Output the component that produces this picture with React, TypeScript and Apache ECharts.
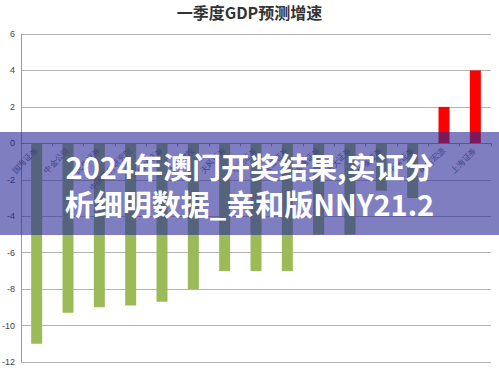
import React, { useEffect, useRef } from "react";
import * as echarts from "echarts";

const title = "一季度GDP预测增速";
const categories = [
  "国海证券", "中金公司", "民生证券", "中国银行研究院", "国信证券",
  "中信建投", "天风证券", "华创证券", "兴业证券", "海通证券",
  "光大证券", "华泰证券", "中泰证券", "申万宏源", "上海证券",
];
const growth = [-11, -9.3, -9, -8.9, -8.7, -8, -7, -7, -7, -5, -5, -2.6, -3, 2, 4];
const yTicks = { min: -12, max: 6, interval: 2 };
const bannerLines = ["2024年澳门开奖结果,实证分", "析细明数据_亲和版NNY21.2"];

export default function App() {
  const ref = useRef<HTMLDivElement>(null);
  useEffect(() => {
    if (!ref.current) return;
    const chart = echarts.init(ref.current, null, { renderer: "svg" });
    const gridTop = 34;
    const gridBottom = 6;
    const gridH = 368 - gridTop - gridBottom;
    const zeroFromBottom = (gridH * (0 - yTicks.min)) / (yTicks.max - yTicks.min);
    chart.setOption({
      animation: false,
      backgroundColor: "#ffffff",
      title: {
        text: title,
        left: "center",
        top: 4,
        padding: 0,
        textStyle: { fontSize: 16, fontWeight: "bold", color: "#333", fontFamily: "Noto Sans CJK SC" },
      },
      grid: {
        left: 21,
        right: 8,
        top: gridTop,
        bottom: gridBottom,
        containLabel: false,
        outerBoundsMode: "none",
      },
      xAxis: {
        type: "category",
        data: categories,
        position: "bottom",
        offset: -zeroFromBottom,
        axisLine: { onZero: false, lineStyle: { color: "#9a9a9a", width: 1 } },
        axisTick: { show: true, length: 3, lineStyle: { color: "#9a9a9a" } },
        axisLabel: {
          rotate: 45,
          fontSize: 8,
          color: "#666",
          fontFamily: "serif",
          margin: 6,
          interval: 0,
        },
        z: 3,
      },
      yAxis: {
        type: "value",
        min: yTicks.min,
        max: yTicks.max,
        interval: yTicks.interval,
        axisLine: { show: true, lineStyle: { color: "#9a9a9a" } },
        axisTick: { show: false },
        axisLabel: { fontSize: 9, color: "#444", margin: 6, fontFamily: "Liberation Sans" },
        splitLine: { lineStyle: { color: "#b3b3b3", width: 1 } },
      },
      series: [
        {
          type: "bar",
          data: growth.map((v) => ({
            value: v,
            itemStyle: { color: v >= 0 ? "#ff0000" : "#9bbb59" },
          })),
          barWidth: 11,
        },
      ],
      graphic: [
        {
          type: "rect",
          left: 0,
          top: 132,
          shape: { width: 499, height: 103 },
          style: { fill: "rgba(40,40,150,0.6)" },
          z: 100,
        },
        {
          type: "text",
          left: "center",
          top: 150,
          style: {
            text: bannerLines[0],
            fill: "#ffffff",
            font: "bold 29px 'Noto Sans CJK SC'",
            lineHeight: 32,
            shadowBlur: 2,
            shadowColor: "rgba(0,0,0,0.3)",
          },
          z: 101,
        },
        {
          type: "text",
          left: "center",
          top: 187,
          style: {
            text: bannerLines[1],
            fill: "#ffffff",
            font: "bold 29px 'Noto Sans CJK SC'",
            lineHeight: 32,
            shadowBlur: 2,
            shadowColor: "rgba(0,0,0,0.3)",
          },
          z: 101,
        },
      ],
    });
    return () => chart.dispose();
  }, []);
  return <div ref={ref} style={{ width: 499, height: 368, position: "absolute", left: 0, top: 0 }} />;
}
